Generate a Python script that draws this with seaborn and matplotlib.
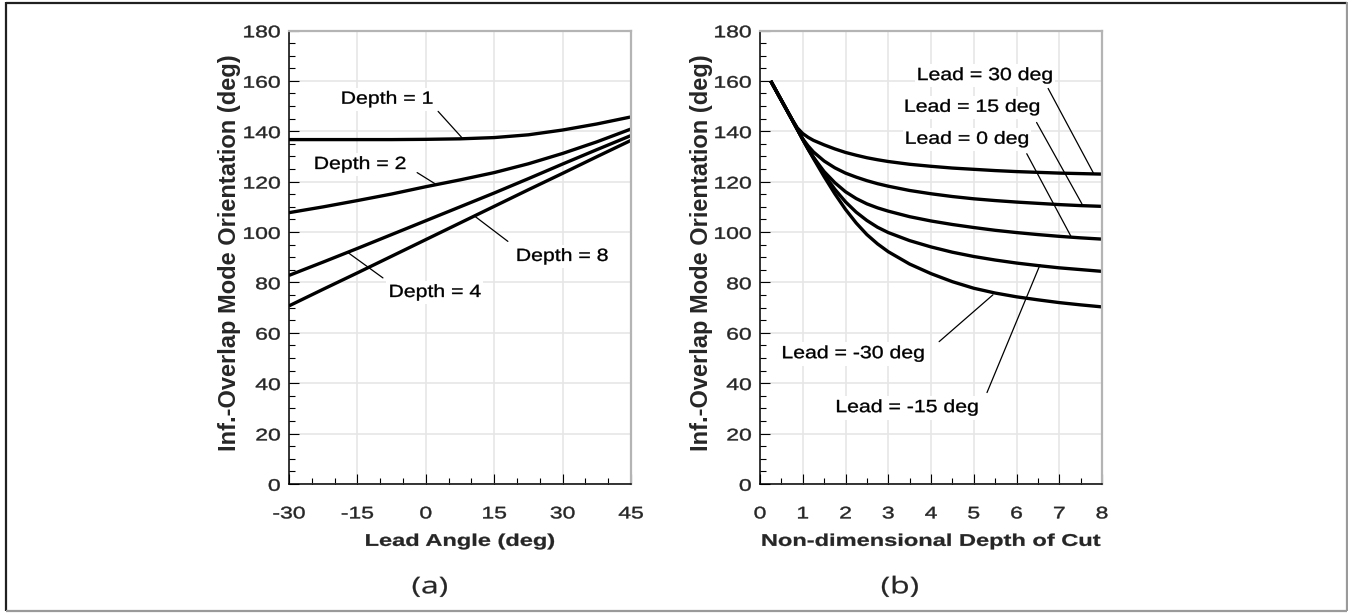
import numpy as np
import pandas as pd
import matplotlib
matplotlib.use("Agg")
import matplotlib.pyplot as plt
import seaborn as sns
from matplotlib.patheffects import AbstractPathEffect
from matplotlib.transforms import Affine2D
from matplotlib.lines import Line2D
from matplotlib.ticker import MultipleLocator

# ---------------- Panel (a): orientation vs lead angle ----------------
lead_angle = [-30, -22.5, -15, -7.5, 0, 7.5, 15, 22.5, 30, 37.5, 45]
depth_1 = [136.7, 136.7, 136.7, 136.7, 136.8, 137.0, 137.5, 138.6, 140.5, 142.9, 145.7]
depth_2 = [107.7, 110.0, 112.5, 115.1, 118.0, 120.7, 123.6, 127.1, 131.2, 135.8, 140.9]
depth_4 = [82.8, 88.1, 93.5, 99.0, 104.5, 110.0, 115.5, 121.2, 127.0, 132.7, 138.3]
depth_8 = [70.7, 77.3, 83.8, 90.4, 97.0, 103.6, 110.2, 116.8, 123.3, 129.9, 136.4]
depth_names = ["Depth = 1", "Depth = 2", "Depth = 4", "Depth = 8"]

a_labels = ["Depth = 1", "Depth = 2", "Depth = 8", "Depth = 4"]
a_text_xy = [(-8.5, 152.6), (-14.4, 126.7), (29.9, 90.2), (2.0, 75.9)]
a_lead_from = [(2.7, 147.9), (-1.9, 123.6), (18.0, 96.3), (-9.4, 81.8)]
a_lead_to = [(7.9, 137.5), (2.0, 119.2), (10.8, 106.2), (-17.1, 91.9)]

# ---------------- Panel (b): orientation vs depth of cut ----------------
depth_cut = [0.25, 0.5, 0.75, 0.875, 1.0, 1.125, 1.25, 1.5, 1.75, 2.0, 2.25, 2.5, 2.75,
             3.0, 3.5, 4.0, 4.5, 5.0, 5.5, 6.0, 6.5, 7.0, 7.5, 8.0]
lead_p30 = [160, 152.3, 144.7, 141.3, 139.1, 137.6, 136.4, 134.6, 133.0, 131.6, 130.5, 129.5, 128.7,
            128.0, 126.9, 126.1, 125.4, 124.9, 124.4, 124.0, 123.7, 123.4, 123.2, 123.0]
lead_p15 = [160, 152.3, 144.6, 140.7, 137.0, 134.2, 131.8, 128.2, 125.5, 123.4, 121.8, 120.4, 119.2,
            118.2, 116.5, 115.2, 114.1, 113.2, 112.5, 111.9, 111.4, 110.9, 110.5, 110.2]
lead_0 = [160, 152.3, 144.6, 140.7, 136.7, 133.0, 129.7, 124.0, 119.6, 116.0, 113.3, 111.2, 109.6,
          108.3, 106.1, 104.4, 103.0, 101.8, 100.7, 99.8, 99.0, 98.3, 97.7, 97.2]
lead_m15 = [160, 152.3, 144.6, 140.7, 136.8, 133.1, 129.6, 122.9, 117.0, 112.0, 107.9, 104.6, 101.9,
            99.8, 96.6, 94.1, 92.0, 90.3, 88.9, 87.7, 86.7, 85.8, 85.1, 84.4]
lead_m30 = [160, 152.3, 144.6, 140.7, 136.8, 132.9, 129.2, 122.0, 115.2, 109.0, 103.6, 99.0, 95.3,
            92.2, 87.3, 83.5, 80.3, 77.7, 75.8, 74.3, 73.1, 72.0, 71.1, 70.3]
lead_names = ["Lead = 30", "Lead = 15", "Lead = 0", "Lead = -15", "Lead = -30"]

b_labels = ["Lead = 30 deg", "Lead = 15 deg", "Lead = 0 deg", "Lead = -30 deg", "Lead = -15 deg"]
b_text_xy = [(5.26, 162.0), (4.96, 149.4), (4.84, 136.7), (2.18, 51.6), (3.44, 30.2)]
b_lead_from = [(6.74, 157.0), (6.47, 143.5), (6.24, 131.1), (4.19, 56.5), (5.31, 36.3)]
b_lead_to = [(7.8, 123.4), (7.53, 111.2), (7.28, 98.1), (5.45, 75.1), (6.55, 87.0)]

a_xticks = [-30, -15, 0, 15, 30, 45]
b_xticks = [0, 1, 2, 3, 4, 5, 6, 7, 8]
yticks = [0, 20, 40, 60, 80, 100, 120, 140, 160, 180]


class VSquash(AbstractPathEffect):
    """Compress text glyphs vertically about the middle of the cap height,
    optionally thickening the strokes a little."""

    def __init__(self, sy=0.7, lw=0.0):
        super().__init__()
        self.sy = sy
        self.lw = lw

    def draw_path(self, renderer, gc, tpath, affine, rgbFace=None):
        ax_, ay_ = affine.transform((0.0, 36.0))
        t = affine + Affine2D().translate(-ax_, -ay_).scale(1.0, self.sy).translate(ax_, ay_)
        gc0 = renderer.new_gc()
        gc0.copy_properties(gc)
        if self.lw > 0:
            gc0.set_linewidth(self.lw)
            gc0.set_foreground(gc.get_rgb())
            gc0.set_joinstyle("round")
        renderer.draw_path(gc0, tpath, t, rgbFace)
        gc0.restore()


sns.set_style("white")
plt.rcParams["font.family"] = ["Liberation Sans", "DejaVu Sans"]
plt.rcParams["axes.unicode_minus"] = False
plt.rcParams["lines.solid_joinstyle"] = "round"
plt.rcParams["lines.solid_capstyle"] = "butt"

fig = plt.figure(figsize=(13.48, 6.13), dpi=100)
W, H = 1348.0, 613.0
ax_a = fig.add_axes([289 / W, 1 - 484 / H, 342 / W, 453.5 / H])
ax_b = fig.add_axes([760 / W, 1 - 484 / H, 342 / W, 453.5 / H])

df_a = pd.concat([
    pd.DataFrame({"x": lead_angle, "y": vals, "series": name})
    for name, vals in zip(depth_names, [depth_1, depth_2, depth_4, depth_8])
])
df_b = pd.concat([
    pd.DataFrame({"x": depth_cut, "y": vals, "series": name})
    for name, vals in zip(lead_names, [lead_p30, lead_p15, lead_0, lead_m15, lead_m30])
])

sns.lineplot(data=df_a, x="x", y="y", hue="series", palette=["black"] * 4,
             legend=False, ax=ax_a, linewidth=2.4, estimator=None)
sns.lineplot(data=df_b, x="x", y="y", hue="series", palette=["black"] * 5,
             legend=False, ax=ax_b, linewidth=2.4, estimator=None)

TICK_FS = 16.5
for ax, xt, xlim, xminor, xlabel, ylx in [
    (ax_a, a_xticks, (-30, 45), 5, "Lead Angle (deg)", -0.140),
    (ax_b, b_xticks, (0, 8), 0.5, "Non-dimensional Depth of Cut", -0.138),
]:
    ax.set_xlim(*xlim)
    ax.set_ylim(0, 180)
    ax.set_xticks(xt)
    ax.set_yticks(yticks)
    ax.xaxis.set_minor_locator(MultipleLocator(xminor))
    ax.yaxis.set_minor_locator(MultipleLocator(5))
    ax.grid(True, which="major", color="#e6e6e6", linewidth=1.2)
    ax.set_axisbelow(True)
    ax.tick_params(which="both", direction="in", top=False, right=False,
                   bottom=True, left=True, color="black", width=0.8)
    ax.tick_params(which="major", length=7.2, labelsize=TICK_FS)
    ax.tick_params(which="minor", length=4.0)
    ax.tick_params(axis="x", which="major", pad=13.4)
    ax.tick_params(axis="y", which="major", pad=6.0)
    for sp in ["left", "bottom"]:
        ax.spines[sp].set_color("black")
        ax.spines[sp].set_linewidth(1.1)
    for sp in ["top", "right"]:
        ax.spines[sp].set_color("#b4b4b4")
        ax.spines[sp].set_linewidth(1.6)
    for lbl in ax.get_xticklabels() + ax.get_yticklabels():
        lbl.set_path_effects([VSquash(0.73, 0.3)])
    ax.set_xlabel(xlabel, fontsize=17, fontweight="bold")
    ax.xaxis.label.set_path_effects([VSquash(0.72, 0.2)])
    ax.xaxis.set_label_coords(0.5, -0.102)
    ax.set_ylabel("Inf.-Overlap Mode Orientation (deg)", fontsize=17, fontweight="bold")
    ax.yaxis.set_label_coords(ylx, 0.51)

for ax, labels, txy, lf, lt in [
    (ax_a, a_labels, a_text_xy, a_lead_from, a_lead_to),
    (ax_b, b_labels, b_text_xy, b_lead_from, b_lead_to),
]:
    for s, (tx, ty), p0, p1 in zip(labels, txy, lf, lt):
        t = ax.text(tx, ty, s, ha="center", va="center", fontsize=15.3, color="black",
                    bbox=dict(facecolor="white", edgecolor="none", pad=1.5), zorder=4)
        t.set_path_effects([VSquash(0.83, 0.25)])
        ax.annotate("", xy=p1, xytext=p0,
                    arrowprops=dict(arrowstyle="-", color="black", lw=0.9,
                                    shrinkA=0, shrinkB=0), zorder=5)

for s, xc in [("(a)", 430), ("(b)", 900)]:
    t = fig.text(xc / W, 1 - 588 / H, s, ha="center", va="center", fontsize=23,
                 family=["Open Sans", "DejaVu Sans"])
    t.set_path_effects([VSquash(0.72, 0.2)])

# figure frame
fig.add_artist(Line2D([5.5 / W, 5.5 / W], [1 - 611 / H, 1 - 2 / H], transform=fig.transFigure,
                      color="#202020", lw=1.6))
fig.add_artist(Line2D([5.5 / W, 1347 / W], [1 - 2.5 / H, 1 - 2.5 / H], transform=fig.transFigure,
                      color="#202020", lw=1.6))
fig.add_artist(Line2D([1346.5 / W, 1346.5 / W], [1 - 611 / H, 1 - 2 / H], transform=fig.transFigure,
                      color="#9a9a9a", lw=1.6))
fig.add_artist(Line2D([5.5 / W, 1347 / W], [1 - 611 / H, 1 - 611 / H], transform=fig.transFigure,
                      color="#9a9a9a", lw=1.6))

fig.savefig("out.png", dpi=100, facecolor="white")
